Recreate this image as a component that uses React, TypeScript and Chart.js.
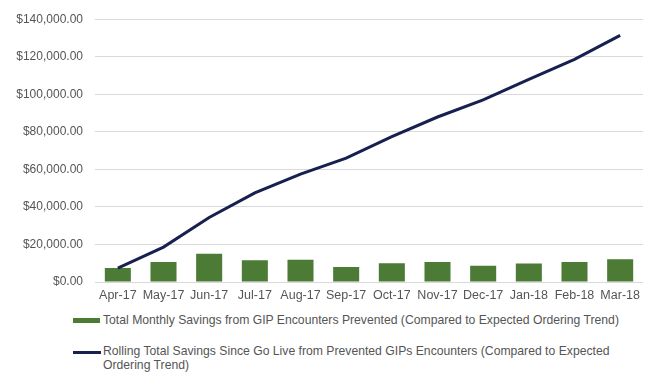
import React, { useEffect, useRef } from "react";
import { Chart, registerables } from "chart.js";

Chart.register(...registerables);

const months = [
  "Apr-17", "May-17", "Jun-17", "Jul-17", "Aug-17", "Sep-17",
  "Oct-17", "Nov-17", "Dec-17", "Jan-18", "Feb-18", "Mar-18",
];
const monthlySavings = [7400, 10700, 15100, 11600, 11900, 8000, 10000, 10700, 8600, 9800, 10700, 12100];
const rollingSavings = [7400, 18600, 34400, 47500, 57500, 66000, 77400, 87900, 97000, 108000, 118600, 131400];

const monthlyLabel =
  "Total Monthly Savings from GIP Encounters Prevented (Compared to Expected Ordering Trend)";
const rollingLabelLines = [
  "Rolling Total Savings Since Go Live from Prevented GIPs Encounters (Compared to Expected",
  "Ordering Trend)",
];

const GREEN = "#4b7b34";
const NAVY = "#18204f";
const TEXT = "#555555";
const GRID = "#d9d9d9";
const FONT = "'Liberation Sans', Arial, sans-serif";

const money = (v: number) =>
  "$" + v.toLocaleString("en-US", { minimumFractionDigits: 2, maximumFractionDigits: 2 });

export default function App() {
  const ref = useRef<HTMLCanvasElement | null>(null);

  useEffect(() => {
    if (!ref.current) return;
    const chart = new Chart(ref.current, {
      type: "bar",
      data: {
        labels: months,
        datasets: [
          {
            type: "line",
            label: rollingLabelLines.join(" "),
            data: rollingSavings,
            borderColor: NAVY,
            backgroundColor: NAVY,
            borderWidth: 3,
            pointRadius: 0,
            tension: 0,
            order: 0,
          },
          {
            type: "bar",
            label: monthlyLabel,
            data: monthlySavings,
            backgroundColor: GREEN,
            borderWidth: 0,
            barPercentage: 0.57,
            categoryPercentage: 1,
            order: 1,
          },
        ],
      },
      options: {
        responsive: false,
        animation: false,
        devicePixelRatio: 1,
        layout: { padding: { top: 16, right: 6, left: 0, bottom: 0 } },
        plugins: { legend: { display: false }, tooltip: { enabled: false }, title: { display: false } },
        scales: {
          x: {
            grid: { display: false, drawTicks: false },
            border: { display: false },
            ticks: {
              color: TEXT,
              font: { family: FONT, size: 12.5 },
              padding: 6,
              maxRotation: 0,
              autoSkip: false,
            },
            afterFit: (s: any) => {
              s.height = 28;
            },
          },
          y: {
            min: 0,
            max: 140000,
            grid: { color: GRID, lineWidth: 1, drawTicks: false },
            border: { display: false },
            ticks: {
              stepSize: 20000,
              color: TEXT,
              font: { family: FONT, size: 12 },
              padding: 12,
              callback: (v: any) => money(Number(v)),
            },
            afterFit: (s: any) => {
              s.width = 95;
            },
          },
        },
      },
    });
    return () => chart.destroy();
  }, []);

  const textStyle: React.CSSProperties = {
    position: "absolute",
    left: 103,
    fontFamily: FONT,
    fontSize: 12.2,
    color: TEXT,
    whiteSpace: "nowrap",
    lineHeight: "13.5px",
  };

  return (
    <div style={{ position: "absolute", left: 0, top: 0, width: 649, height: 373, background: "#fff", overflow: "hidden" }}>
      <canvas ref={ref} width={649} height={310} style={{ position: "absolute", left: 0, top: 0 }} />
      <div style={{ position: "absolute", left: 73, top: 318, width: 27, height: 5, background: GREEN }} />
      <div style={{ ...textStyle, top: 313.5 }}>{monthlyLabel}</div>
      <div style={{ position: "absolute", left: 73, top: 350.5, width: 28, height: 3, background: NAVY }} />
      <div style={{ ...textStyle, top: 345 }}>
        {rollingLabelLines[0]}
        <br />
        {rollingLabelLines[1]}
      </div>
    </div>
  );
}
